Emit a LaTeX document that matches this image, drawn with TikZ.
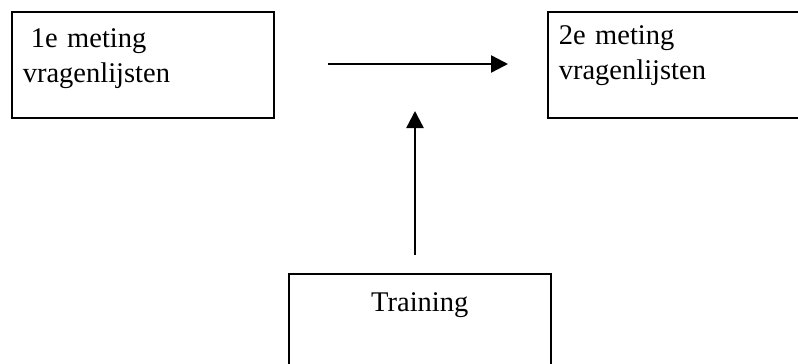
\documentclass[tikz,border=0pt]{standalone}
\usepackage{fontspec}
\setmainfont{Liberation Serif}
\usetikzlibrary{arrows.meta, positioning}

\begin{document}
\begin{tikzpicture}[x=1pt, y=-1pt,
  every node/.style={font=\fontsize{28.5}{35}\selectfont},
  meetbox/.style={draw, line width=1.6pt, anchor=north west,
    minimum width=262pt, minimum height=106pt, inner ysep=0pt,
    text width=240pt},
  pijl/.style={-{Triangle[length=17pt, width=17pt]}, line width=2.4pt}]
\clip (0,0) rectangle (798,364);
% First measurement box
\node[meetbox, inner xsep=10pt, align=left, text height=36pt, text depth=70pt]
  (meting1) at (11,11) {\hspace*{8pt}1e meting\\vragenlijsten};
% Second measurement box
\node[meetbox, inner xsep=11pt, align=left, text height=33pt, text depth=73pt]
  (meting2) at (547,11) {2e meting\\vragenlijsten};
% Training box
\node[meetbox, inner xsep=11pt, align=center, text height=38pt, text depth=68pt]
  (training) at (288,273) {Training};
% Arrows
\coordinate (tijdstart) at (328,64);
\coordinate (tijdeind) at (508,64);
\coordinate (trainstart) at (415,255);
\coordinate (traineind) at (415,111);
\draw[pijl] (tijdstart) -- (tijdeind);
\draw[pijl] (trainstart) -- (traineind);
\end{tikzpicture}
\end{document}
